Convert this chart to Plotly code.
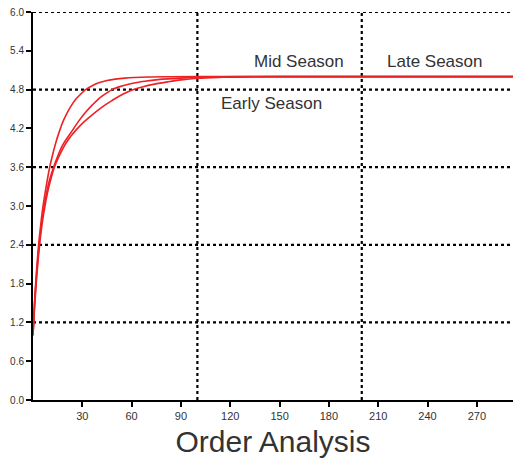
import plotly.graph_objects as go

# Data
curve1_x = [0, 1, 2, 3, 4, 5, 6, 8, 10, 12, 14, 16, 18, 20, 23, 26, 29, 32, 36, 40, 45, 50, 56, 62, 70, 80, 100, 300]
curve1_y = [1.0, 1.55, 1.95, 2.28, 2.55, 2.78, 2.98, 3.3, 3.58, 3.8, 3.99, 4.15, 4.29, 4.4, 4.54, 4.65, 4.73, 4.8,
            4.86, 4.905, 4.94, 4.962, 4.978, 4.987, 4.994, 4.998, 5.0, 5.0]

curve2_x = [0, 1, 2, 3, 4, 5, 6, 8, 10, 12.5, 15, 18, 21, 24, 28, 32, 36, 41, 45, 48, 54, 60, 68, 76, 85, 95, 110, 130, 300]
curve2_y = [1.0, 1.5, 1.88, 2.2, 2.46, 2.68, 2.87, 3.17, 3.4, 3.6, 3.77, 3.94, 4.06, 4.17, 4.32, 4.45, 4.56, 4.68,
            4.75, 4.8, 4.855, 4.895, 4.93, 4.955, 4.97, 4.985, 4.995, 5.0, 5.0]

curve3_x = [0, 1, 2, 3, 4, 5, 6, 8, 10, 13, 16, 20, 23, 26, 31, 36, 42, 48, 54, 60, 67, 74, 82, 90, 100, 115, 130, 150, 300]
curve3_y = [1.0, 1.45, 1.82, 2.13, 2.4, 2.62, 2.8, 3.1, 3.33, 3.6, 3.78, 3.97, 4.08, 4.17, 4.3, 4.41, 4.53, 4.63,
            4.72, 4.79, 4.845, 4.885, 4.92, 4.95, 4.975, 4.99, 4.997, 5.0, 5.0]

hlines = [1.2, 2.4, 3.6, 4.8, 6.0]
vlines = [100, 200]

x_ticks = [30, 60, 90, 120, 150, 180, 210, 240, 270]
y_ticks = [0.0, 0.6, 1.2, 1.8, 2.4, 3.0, 3.6, 4.2, 4.8, 5.4, 6.0]

labels = ["Mid Season", "Late Season", "Early Season"]
label_x = [162, 244, 145]
label_y = [5.24, 5.24, 4.58]

RED = "#ec2227"
TXT = "#333333"
FONT = "Liberation Sans, Arial, sans-serif"

fig = go.Figure()
for xs, ys in [(curve3_x, curve3_y), (curve2_x, curve2_y), (curve1_x, curve1_y)]:
    fig.add_trace(go.Scatter(x=xs, y=ys, mode="lines", line=dict(color=RED, width=1.6, shape="spline", smoothing=1.0),
                             showlegend=False, hoverinfo="skip", cliponaxis=True))

shapes = []
for h in hlines:
    shapes.append(dict(type="line", xref="paper", x0=0, x1=1, yref="y", y0=h, y1=h,
                       line=dict(color="black", width=2.2, dash="dot"), layer="below"))
for v in vlines:
    shapes.append(dict(type="line", xref="x", x0=v, x1=v, yref="paper", y0=0, y1=1,
                       line=dict(color="black", width=2.2, dash="dot"), layer="below"))

annotations = []
for t, ax, ay in zip(labels, label_x, label_y):
    annotations.append(dict(x=ax, y=ay, xref="x", yref="y", text=t, showarrow=False,
                            font=dict(size=17, color=TXT, family=FONT)))

fig.update_layout(
    width=513, height=461,
    margin=dict(l=33, r=0, t=12, b=61),
    paper_bgcolor="white", plot_bgcolor="white",
    font=dict(family=FONT, color=TXT),
    shapes=shapes, annotations=annotations,
    xaxis=dict(range=[0, 292], tickvals=x_ticks, ticktext=[str(v) for v in x_ticks],
               showgrid=False, zeroline=False, showline=True, linecolor="black", linewidth=2,
               ticks="outside", ticklen=5, tickwidth=1.5, tickcolor="black",
               tickfont=dict(size=11, color=TXT, family=FONT),
               title=dict(text="Order Analysis", font=dict(size=30, color=TXT, family=FONT), standoff=10)),
    yaxis=dict(range=[0, 6.0], tickvals=y_ticks, ticktext=[f"{v:.1f}" for v in y_ticks],
               showgrid=False, zeroline=False, showline=True, linecolor="black", linewidth=2,
               ticks="outside", ticklen=5, tickwidth=1.5, tickcolor="black",
               tickfont=dict(size=10, color=TXT, family=FONT)),
)

fig.write_html("out.html")
